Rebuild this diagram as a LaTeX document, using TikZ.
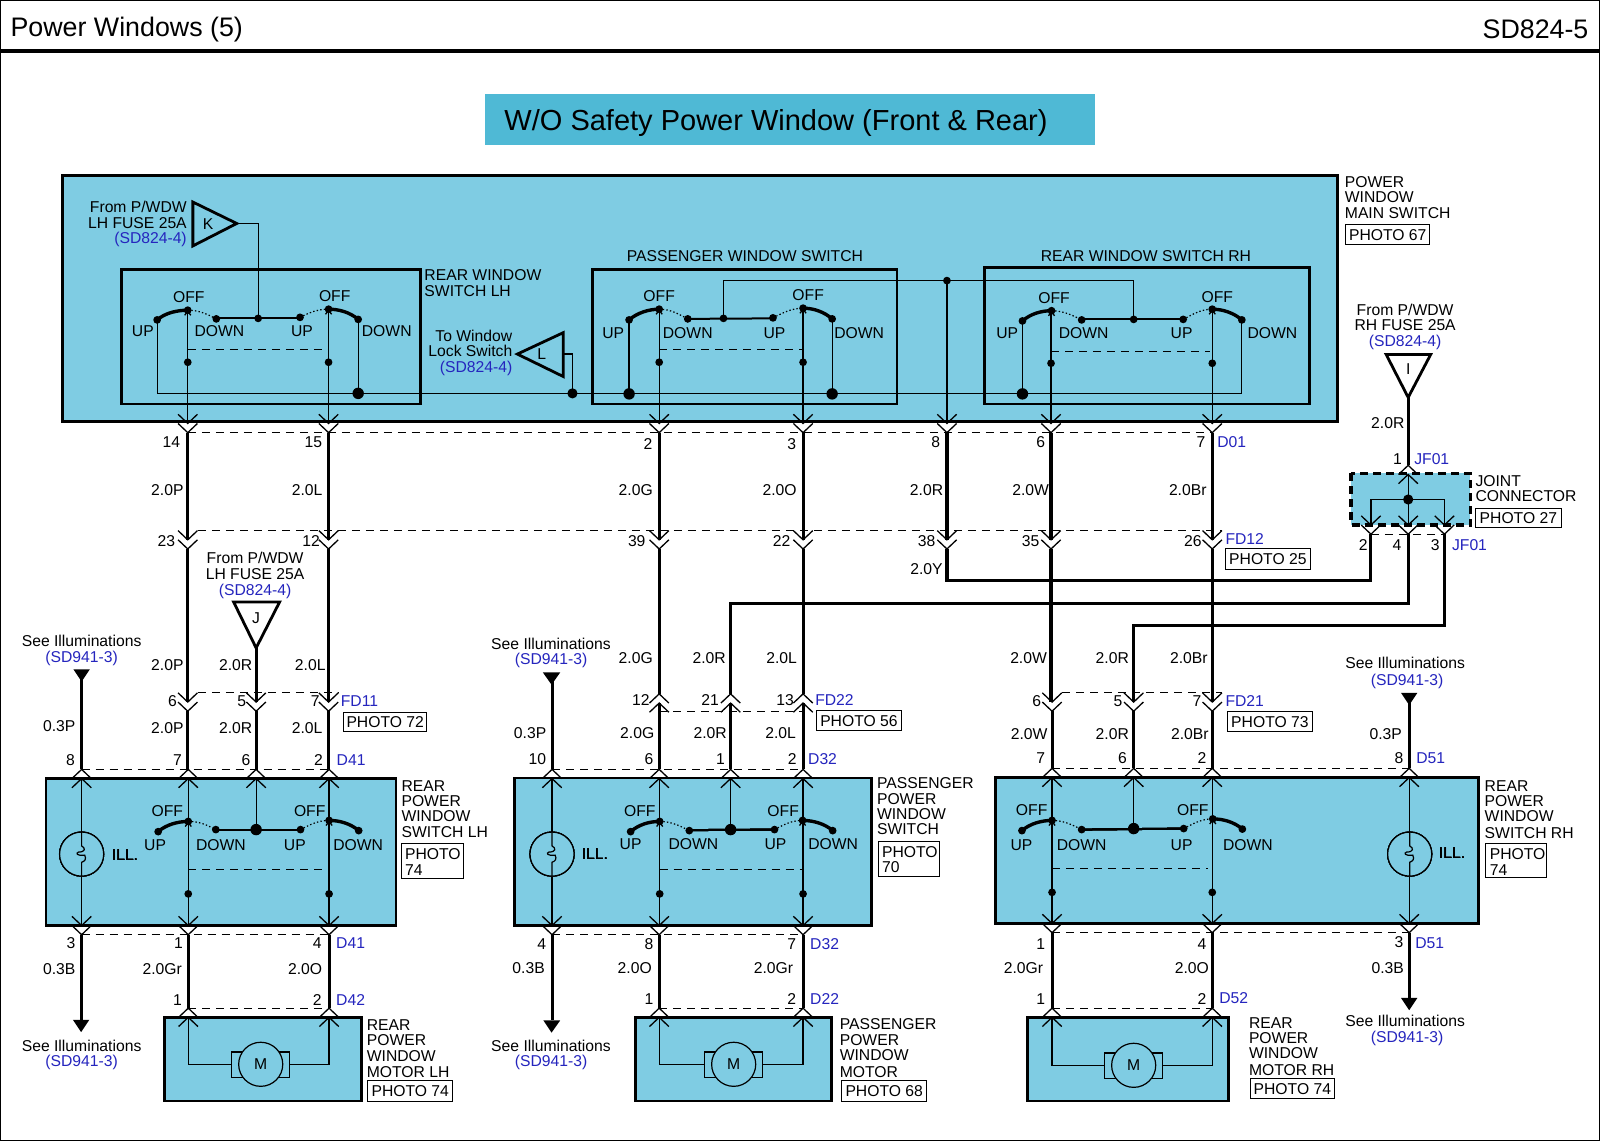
\documentclass[tikz,border=0pt]{standalone}
\usepackage{fontspec}
\setmainfont{Liberation Sans}
\definecolor{boxc}{HTML}{7FCCE3}
\definecolor{titlec}{HTML}{4FB9D5}
\definecolor{bluet}{HTML}{2525BE}
\newcounter{lbl}
\tikzset{
  lab/.style={inner sep=0pt,outer sep=0pt,font=\fontsize{7.85}{8.3}\selectfont,text height=5.6pt,text depth=0pt},
  thin wire/.style={line width=0.6pt},
  heavy/.style={line width=1.55pt},
  chev/.style={line width=0.65pt},
  boxed/.style={fill=boxc,draw=black,line width=1.4pt},
  brk/.style={line width=0.55pt,dash pattern=on 4pt off 3pt},
  dots/.style={line width=0.6pt,dash pattern=on 0.7pt off 1.1pt},
  arm/.style={line width=1.7pt,line cap=round},
  photo/.style={draw=black,line width=0.5pt,fill=white},
}
\newcommand\Tc[3]{\stepcounter{lbl}\node[lab,anchor=center] (t\arabic{lbl}) at (#1,#2) {#3};}
\newcommand\Tl[3]{\stepcounter{lbl}\node[lab,anchor=west] (t\arabic{lbl}) at (#1,#2) {#3};}
\newcommand\Tr[3]{\stepcounter{lbl}\node[lab,anchor=east] (t\arabic{lbl}) at (#1,#2) {#3};}
\newcommand\bl[1]{\textcolor{bluet}{#1}}
\newcommand\cd[2]{\draw[chev] ({#1-9.5},{#2-9})--(#1,#2)--({#1+9.5},{#2-9}); \draw[chev] ({#1-9.5},#2)--(#1,{#2+9})--({#1+9.5},#2);}
\newcommand\cu[2]{\draw[chev] ({#1-9.5},{#2+9})--(#1,#2)--({#1+9.5},{#2+9}); \draw[chev] ({#1-9.5},{#2+18})--(#1,{#2+9})--({#1+9.5},{#2+18});}
\newcommand\SDot[2]{\fill (#1,#2) circle (3.8);}
\newcommand\BDot[2]{\fill (#1,#2) circle (5.6);}
\newcommand\tick[2]{\draw[chev] ({#1-3},{#2+5})--(#1,{#2+1})--({#1+3},{#2+5});}
% switch: left blade thick (U to O), dotted O to D
\newcommand\swL[6]{\draw[arm] (#1,#2) .. controls ({#1+8},{#2-7}) and ({#3-10},{#4}) .. (#3,#4);
  \draw[dots] (#3,#4) .. controls ({#3+12},{#4}) and ({#5-8},{#6-4}) .. (#5,#6);
  \SDot{#1}{#2}\SDot{#3}{#4}\SDot{#5}{#6}\tick{#3}{#4}}
% switch: dotted U to O, thick O to D
\newcommand\swR[6]{\draw[dots] (#1,#2) .. controls ({#1+8},{#2-4}) and ({#3-12},{#4}) .. (#3,#4);
  \draw[arm] (#3,#4) .. controls ({#3+10},{#4}) and ({#5-8},{#6-7}) .. (#5,#6);
  \SDot{#1}{#2}\SDot{#3}{#4}\SDot{#5}{#6}\tick{#3}{#4}}
\newcommand\lamp[2]{\draw[thin wire,fill=boxc] (#1,#2) circle (21.6);
  \draw[thin wire] (#1,{#2-21.6}) -- (#1,{#2-8}) .. controls ({#1+4},{#2-6}) and ({#1+4},{#2-2}) .. ({#1-3},{#2-2}) .. controls ({#1-6},{#2-1}) and ({#1-5},{#2+2}) .. ({#1+3},{#2+1}) .. controls ({#1+5},{#2+5}) and ({#1+3},{#2+7}) .. (#1,{#2+8}) -- (#1,{#2+21.6});}
\newcommand\motor[2]{\draw[thin wire] ({#1-28.5},{#2-12}) rectangle ({#1+28.5},{#2+13});
  \draw[thin wire,fill=boxc] (#1,#2) circle (21.6);
  \Tc{#1}{#2}{M}}
\begin{document}
\begin{tikzpicture}[x=0.5102pt,y=-0.5102pt]
\useasboundingbox (0,0) rectangle (1568,1120);
\fill[white] (0,0) rectangle (1568,1120);
\draw[line width=0.6pt] (0.5,0.5) rectangle (1567.5,1118);
\draw[line width=2pt] (0,50) -- (1568,50);
\node[inner sep=0pt,anchor=west,font=\fontsize{13.4}{14}\selectfont] (head) at (10,29) {Power Windows (5)};
\node[inner sep=0pt,anchor=east,font=\fontsize{13.4}{14}\selectfont] (code) at (1557,29) {SD824-5};
\fill[titlec] (475,92) rectangle (1073,142);
\node[inner sep=0pt,anchor=west,font=\fontsize{14.5}{15}\selectfont] (title) at (494,120.5) {W/O Safety Power Window (Front \& Rear)};

% ---------- main switch
\fill[boxc] (61,172) rectangle (1311,413);
\draw[line width=1.4pt] (61,172) rectangle (1311,413);
\foreach \a/\b/\c/\d in {119/264/412/396,581/264/879/396,965/262/1283/396}
  \draw[line width=1.4pt] (\a,\b) rectangle (\c,\d);
% K, L
\draw[line width=1.4pt,fill=boxc] (189,198) -- (189,241) -- (232,219) -- cycle;
\Tc{204}{219}{K}
\draw[thin wire] (232,219) -- (253,219) -- (253,312);
\draw[line width=1.4pt,fill=boxc] (507,347) -- (552,326) -- (552,369) -- cycle;
\Tc{531}{347}{L}
\draw[thin wire] (552,347) -- (561,347) -- (561,385);
\SDot{253}{312}
\Tr{183}{203}{From P/WDW}\Tr{183}{218}{LH FUSE 25A}\Tr{183}{233}{\bl{(SD824-4)}}
\Tr{502}{329}{To Window}\Tr{502}{344}{Lock Switch}\Tr{502}{360}{\bl{(SD824-4)}}
\Tl{416}{269}{REAR WINDOW}\Tl{416}{285}{SWITCH LH}
\Tc{730}{251}{PASSENGER WINDOW SWITCH}\Tc{1123}{251}{REAR WINDOW SWITCH RH}
\Tl{1318}{178}{POWER}\Tl{1318}{193}{WINDOW}\Tl{1318}{209}{MAIN SWITCH}
% internal thin wires
\draw[thin wire] (154,313) -- (154,385.5) -- (1217,385.5) -- (1217,314);
\draw[thin wire] (351,313) -- (351,385);
\draw[thin wire] (616.5,313) -- (616.5,385); \draw[thin wire] (815.5,313) -- (815.5,385);
\draw[thin wire] (1002,314) -- (1002,385);
\draw[line width=1pt] (212,312) -- (294,312);
\draw[line width=1pt] (674,312.5) -- (758,312);
\draw[line width=1pt] (1060,313) -- (1160,313);
\draw[thin wire] (709,312) -- (709,275) -- (1111,275) -- (1111,313);
\draw[thin wire] (928,275) -- (928,415);
\foreach \x/\t in {184/304,322/303,646/303,787/302,1030/304,1188/303}
  \draw[thin wire] (\x,\t) -- (\x,415);
\swL{154}{313.5}{184}{304}{212}{312.5}
\swR{294}{311}{322}{303}{351}{313}
\swL{616.5}{313.5}{646}{303}{674}{312.5}
\swR{757.5}{311.5}{787}{302}{815.5}{312.5}
\swL{1002}{314.5}{1030.5}{304.5}{1060}{313.5}
\swR{1159.5}{313}{1188}{303}{1217}{313.5}
\SDot{709}{312}\SDot{1111}{313}\SDot{928}{275}
\BDot{351}{385.5}\fill (561,385.5) circle (5);
\BDot{616.5}{386}\BDot{815.5}{386}\BDot{1002}{386}
\foreach \x/\y in {184/355,322/355,646/355,787/355,1030/356,1188/356} {\SDot{\x}{\y}}
\draw[brk] (184,342.5) -- (322,342.5);
\draw[brk] (646,342.5) -- (787,342.5);
\draw[brk] (1030,344.5) -- (1186,344.5);
\Tc{185}{291}{OFF}\Tc{328}{290}{OFF}\Tc{140}{324}{UP}\Tc{215}{324}{DOWN}\Tc{296}{324}{UP}\Tc{379}{324}{DOWN}
\Tc{646}{290}{OFF}\Tc{792}{289}{OFF}\Tc{601}{326}{UP}\Tc{674}{326}{DOWN}\Tc{759}{326}{UP}\Tc{842}{326}{DOWN}
\Tc{1033}{292}{OFF}\Tc{1193}{291}{OFF}\Tc{987}{326}{UP}\Tc{1062}{326}{DOWN}\Tc{1158}{326}{UP}\Tc{1247}{326}{DOWN}

% ---------- joint connector
\fill[boxc] (1324,464) rectangle (1441,514.5);
\draw[line width=1.6pt,dash pattern=on 4pt off 2.5pt] (1324,464) rectangle (1441,514.5);
\draw[thin wire] (1380,465) -- (1380,514.5);
\draw[thin wire] (1343.5,514.5) -- (1343.5,489.5) -- (1415.5,489.5) -- (1415.5,514.5);
\fill (1380,489.5) circle (5);
\draw[line width=1.4pt,fill=white] (1358.5,347.5) -- (1402,347.5) -- (1380,389.5) -- cycle;
\Tc{1380}{362}{I}
\Tc{1377}{304}{From P/WDW}\Tc{1377}{318}{RH FUSE 25A}\Tc{1377}{334}{\bl{(SD824-4)}}
\draw[heavy] (1380,389) -- (1380,456);
\Tc{1360}{414}{2.0R}
\Tc{1369.5}{449.5}{1}\Tl{1386}{449.5}{\bl{JF01}}
\cu{1380}{456}
\cd{1343.5}{514.5}\cd{1380}{514.5}\cd{1415.5}{514.5}
\draw[brk] (1343.5,523.5) -- (1415.5,523.5);
\Tc{1336}{534}{2}\Tc{1369}{534}{4}\Tc{1406.5}{534}{3}\Tl{1423}{534}{\bl{JF01}}
\Tl{1446}{471}{JOINT}\Tl{1446}{486}{CONNECTOR}
\draw[heavy] (1343.5,523.5) -- (1343.5,569) -- (928,569) -- (928,538);
\draw[heavy] (1380,523.5) -- (1380,591) -- (716,591) -- (716,680);
\draw[heavy] (1415.5,523.5) -- (1415.5,613) -- (1111,613) -- (1111,688);

% ---------- harness between main switch and FD12
\foreach \x in {184,322,646,787,928,1030,1188} {
  \draw[heavy] (\x,424) -- (\x,529);
  \cd{\x}{415}\cd{\x}{529}
}
\foreach \x in {184,322,646,787,1030,1188} \draw[heavy] (\x,538) -- (\x,680);
\draw[heavy] (184,680) -- (184,688);\draw[heavy] (322,680) -- (322,688);
\draw[heavy] (1030,680) -- (1030,688);\draw[heavy] (1188,680) -- (1188,688);
\draw[brk] (184,424) -- (1188,424);
\draw[brk] (194,520) -- (1198,520);
\Tc{168}{433}{14}\Tc{307}{433}{15}\Tc{635}{435}{2}\Tc{776}{435}{3}\Tc{917}{433}{8}\Tc{1020}{433}{6}\Tc{1177}{433}{7}\Tl{1193}{433}{\bl{D01}}
\Tc{164}{480}{2.0P}\Tc{301}{480}{2.0L}\Tc{623}{480}{2.0G}\Tc{764}{480}{2.0O}\Tc{908}{480}{2.0R}\Tc{1010}{480}{2.0W}\Tc{1164}{480}{2.0Br}
\Tc{163}{530}{23}\Tc{305}{530}{12}\Tc{624}{530}{39}\Tc{766}{530}{22}\Tc{908}{530}{38}\Tc{1010}{530}{35}\Tc{1169}{530}{26}
\Tl{1201}{528}{\bl{FD12}}
\Tc{908}{558}{2.0Y}

% ---------- lower left block
\draw[boxed] (45,763) rectangle (388,907);
\fill[black] (72,656) -- (88,656) -- (80,668) -- cycle;
\draw[heavy] (80,660) -- (80,754);
\Tc{80}{628}{See Illuminations}\Tc{80}{644}{\bl{(SD941-3)}}
\Tc{58}{711}{0.3P}
\draw[line width=1.4pt,fill=white] (229,590) -- (274,590) -- (251,635) -- cycle;
\Tc{251}{606}{J}
\Tc{250}{547}{From P/WDW}\Tc{250}{562}{LH FUSE 25A}\Tc{250}{578}{\bl{(SD824-4)}}
\draw[heavy] (251,635) -- (251,688);
\foreach \x in {184,251,322} {\cd{\x}{688}\draw[heavy] (\x,697) -- (\x,754);}
\draw[brk] (194,679) -- (332,679);
\Tc{169}{687}{6}\Tc{237}{687}{5}\Tc{309}{687}{7}\Tl{334}{687}{\bl{FD11}}
\Tc{164}{652}{2.0P}\Tc{231}{652}{2.0R}\Tc{304}{652}{2.0L}
\Tc{164}{713}{2.0P}\Tc{231}{713}{2.0R}\Tc{301}{713}{2.0L}
\draw[brk] (80,754) -- (322,754);
\Tc{69}{745}{8}\Tc{174}{745}{7}\Tc{241}{745}{6}\Tc{312}{745}{2}\Tl{330}{745}{\bl{D41}}
\foreach \x in {80,184.5,322.5} {\draw[thin wire] (\x,763) -- (\x,907);\cd{\x}{907}}
\draw[thin wire] (251,763) -- (251,813);
\foreach \x in {80,184.5,251,322.5} \cu{\x}{754}
\lamp{80}{837}
\Tc{122.5}{838}{ILL.}
\draw[line width=1pt] (211.5,813) -- (294.5,813);
\swL{155}{815}{184.5}{805}{211.5}{813}
\swR{294.5}{813}{322.5}{804}{351.5}{814}
\BDot{251}{813}
\draw[brk] (184.5,852) -- (322.5,852);
\SDot{184.5}{876}\SDot{322.5}{876}
\Tc{164}{795}{OFF}\Tc{303.5}{795}{OFF}\Tc{152}{828}{UP}\Tc{216.5}{828}{DOWN}\Tc{289}{828}{UP}\Tc{351}{828}{DOWN}
\Tl{393.5}{770}{REAR}\Tl{393.5}{785}{POWER}\Tl{393.5}{800}{WINDOW}\Tl{393.5}{815.5}{SWITCH LH}
% bottom
\draw[heavy] (80,916) -- (80,1000);
\fill[black] (71.5,999.5) -- (87.5,999.5) -- (79.5,1011.5) -- cycle;
\draw[brk] (80,916) -- (322.5,916);
\draw[heavy] (184.5,916) -- (184.5,988); \draw[heavy] (322.5,916) -- (322.5,988);
\Tc{69.5}{924.5}{3}\Tc{175}{924.5}{1}\Tc{311}{924.5}{4}\Tl{329.5}{924.5}{\bl{D41}}
\Tc{58}{949.5}{0.3B}\Tc{159}{949.5}{2.0Gr}\Tc{299}{949.5}{2.0O}
\Tc{174}{980}{1}\Tc{311}{980}{2}\Tl{329.5}{980}{\bl{D42}}
\Tc{80}{1024.5}{See Illuminations}\Tc{80}{1039.5}{\bl{(SD941-3)}}
\draw[boxed] (161.5,997) rectangle (354.5,1079);
\draw[thin wire] (184.5,997) -- (184.5,1043) -- (227,1043);
\draw[thin wire] (322.5,997) -- (322.5,1043) -- (284,1043);
\motor{255.5}{1043}
\draw[brk] (184.5,988) -- (322.5,988);
\cu{184.5}{988}\cu{322.5}{988}
\Tl{359.5}{1004}{REAR}\Tl{359.5}{1019.5}{POWER}\Tl{359.5}{1034.5}{WINDOW}\Tl{359.5}{1050}{MOTOR LH}

% ---------- lower middle block
\draw[boxed] (504,762.5) rectangle (854,907);
\fill[black] (532,659) -- (549,659) -- (540.5,671) -- cycle;
\draw[heavy] (541,662) -- (541,754);
\Tc{540}{631}{See Illuminations}\Tc{540}{646}{\bl{(SD941-3)}}
\Tc{519.5}{718.5}{0.3P}
\foreach \x in {646,716,787} {\cu{\x}{680}\draw[heavy] (\x,689) -- (\x,754);}
\draw[brk] (646,697) -- (787,697);
\Tc{628}{686}{12}\Tc{696}{686}{21}\Tc{769.5}{686}{13}\Tl{799}{686}{\bl{FD22}}
\Tc{623}{645}{2.0G}\Tc{695}{645}{2.0R}\Tc{766}{645}{2.0L}
\Tc{624.5}{718.5}{2.0G}\Tc{696}{718.5}{2.0R}\Tc{765}{718.5}{2.0L}
\draw[brk] (541,754) -- (786,754);
\Tc{526.5}{744}{10}\Tc{636}{744}{6}\Tc{706}{744}{1}\Tc{776.5}{744}{2}\Tl{792}{744}{\bl{D32}}
\foreach \x in {541,646,787} {\draw[thin wire] (\x,763) -- (\x,907);\cd{\x}{907}}
\draw[thin wire] (716,763) -- (716,813);
\foreach \x in {541,646,716,787} \cu{\x}{754}
\lamp{541}{837}
\Tc{583}{836.5}{ILL.}
\draw[line width=1pt] (675.5,813.5) -- (759,813);
\swL{618}{815}{646.5}{805}{675.5}{814}
\swR{759}{813}{786.5}{804}{816}{814}
\BDot{716}{813}
\draw[brk] (646.5,852) -- (786.5,852);
\SDot{646.5}{876}\SDot{787}{876}
\Tc{627}{795}{OFF}\Tc{767.5}{795}{OFF}\Tc{618}{827}{UP}\Tc{679.5}{827}{DOWN}\Tc{760}{827}{UP}\Tc{816.5}{827}{DOWN}
\Tl{859.5}{767}{PASSENGER}\Tl{859.5}{782.5}{POWER}\Tl{859.5}{797.5}{WINDOW}\Tl{859.5}{812.5}{SWITCH}
% bottom
\draw[heavy] (541,916) -- (541,1000);
\fill[black] (532.5,1000) -- (549,1000) -- (540.5,1012) -- cycle;
\draw[brk] (541,916) -- (787,916);
\draw[heavy] (646,916) -- (646,988); \draw[heavy] (787,916) -- (787,988);
\Tc{531}{925}{4}\Tc{636}{925}{8}\Tc{776}{925}{7}\Tl{794}{925}{\bl{D32}}
\Tc{518}{949}{0.3B}\Tc{622}{949}{2.0O}\Tc{758}{949}{2.0Gr}
\Tc{636}{979}{1}\Tc{776}{979}{2}\Tl{794}{979}{\bl{D22}}
\Tc{540}{1024.5}{See Illuminations}\Tc{540}{1039.5}{\bl{(SD941-3)}}
\draw[boxed] (623,997) rectangle (815,1079);
\draw[thin wire] (646,997) -- (646,1043) -- (690,1043);
\draw[thin wire] (787,997) -- (787,1043) -- (748,1043);
\motor{719}{1043}
\draw[brk] (646,988) -- (787,988);
\cu{646}{988}\cu{787}{988}
\Tl{823}{1003}{PASSENGER}\Tl{823}{1019}{POWER}\Tl{823}{1034}{WINDOW}\Tl{823}{1050}{MOTOR}

% ---------- lower right block
\draw[boxed] (975.5,762) rectangle (1449,905);
\foreach \x in {1031,1111,1188} {\cd{\x}{688}\draw[heavy] (\x,697) -- (\x,753);}
\draw[brk] (1041,679) -- (1198,679);
\Tc{1016}{687}{6}\Tc{1095.5}{687}{5}\Tc{1173}{687}{7}\Tl{1201}{687}{\bl{FD21}}
\Tc{1008}{645}{2.0W}\Tc{1090}{645}{2.0R}\Tc{1165}{645}{2.0Br}
\Tc{1008.5}{719}{2.0W}\Tc{1090}{719}{2.0R}\Tc{1166}{719}{2.0Br}
\Tc{1358}{719}{0.3P}
\fill[black] (1373,679) -- (1389,679) -- (1381,691) -- cycle;
\draw[heavy] (1381,682) -- (1381,753);
\Tc{1377}{650}{See Illuminations}\Tc{1379}{666}{\bl{(SD941-3)}}
\draw[brk] (1031,753) -- (1381,753);
\Tc{1020}{743}{7}\Tc{1100}{743}{6}\Tc{1178}{743}{2}\Tc{1371}{743}{8}\Tl{1388}{743}{\bl{D51}}
\foreach \x in {1031,1188,1381} {\draw[thin wire] (\x,762) -- (\x,905);\cd{\x}{905}}
\draw[thin wire] (1111,762) -- (1111,812);
\foreach \x in {1031,1111,1188,1381} \cu{\x}{753}
\lamp{1381.5}{837}
\Tc{1423}{836}{ILL.}
\draw[line width=1pt] (1060,813) -- (1160,812);
\swL{1001.5}{814}{1031}{804}{1060}{813}
\swR{1160}{812}{1188.5}{802.5}{1217.5}{812.5}
\BDot{1111}{812}
\draw[brk] (1031,851) -- (1184,851);
\SDot{1031}{874.5}\SDot{1188}{874.5}
\Tc{1011}{794}{OFF}\Tc{1169}{794}{OFF}\Tc{1001}{828}{UP}\Tc{1060}{828}{DOWN}\Tc{1158}{828}{UP}\Tc{1223}{828}{DOWN}
\Tl{1455}{770}{REAR}\Tl{1455}{785}{POWER}\Tl{1455}{800}{WINDOW}\Tl{1455}{816}{SWITCH RH}
% bottom
\draw[heavy] (1381,914) -- (1381,980);
\fill[black] (1373,978) -- (1389,978) -- (1381,990) -- cycle;
\draw[brk] (1031,914) -- (1381,914);
\draw[heavy] (1031,914) -- (1031,988); \draw[heavy] (1188,914) -- (1188,988);
\Tc{1020}{925}{1}\Tc{1178}{925}{4}\Tc{1371}{923}{3}\Tl{1387}{924}{\bl{D51}}
\Tc{1003}{949}{2.0Gr}\Tc{1168}{949}{2.0O}\Tc{1360}{949}{0.3B}
\Tc{1020}{979}{1}\Tc{1178}{979}{2}\Tl{1195}{978}{\bl{D52}}
\Tc{1377}{1000}{See Illuminations}\Tc{1379}{1016}{\bl{(SD941-3)}}
\draw[boxed] (1007,997) rectangle (1204,1079);
\draw[thin wire] (1031,997) -- (1031,1044) -- (1082,1044);
\draw[thin wire] (1188,997) -- (1188,1044) -- (1140,1044);
\motor{1111}{1044}
\draw[brk] (1031,988) -- (1188,988);
\cu{1031}{988}\cu{1188}{988}
\Tl{1224}{1002}{REAR}\Tl{1224}{1017}{POWER}\Tl{1224}{1032}{WINDOW}\Tl{1224}{1048}{MOTOR RH}

% ---------- photo tags
\foreach \a/\b/\c/\d/\t in {1319/220/1401/240/PHOTO 67,1446/498/1530/517/PHOTO 27,1201/538/1284/558/PHOTO 25,337/698/418/717/PHOTO 72,800/696/883.5/716/PHOTO 56,1203/697/1286/717/PHOTO 73,360.5/1058.5/443.5/1079/PHOTO 74,825/1059/908/1079/PHOTO 68,1225/1057/1308/1077/PHOTO 74} {
  \draw[photo] (\a,\b) rectangle (\c,\d);
  \stepcounter{lbl}
  \node[lab,anchor=center] (t\arabic{lbl}) at ({(\a+\c)/2},{(\b+\d)/2}) {\t};
}
\foreach \a/\b/\c/\d/\t in {393/827/454/861/74,860.5/825/921/859/70,1456/827/1516/860/74} {
  \draw[photo] (\a,\b) rectangle (\c,\d);
  \Tl{\a+4}{\b+10}{PHOTO}
  \Tl{\a+4}{\b+25}{\t}
}
\end{tikzpicture}
\end{document}
